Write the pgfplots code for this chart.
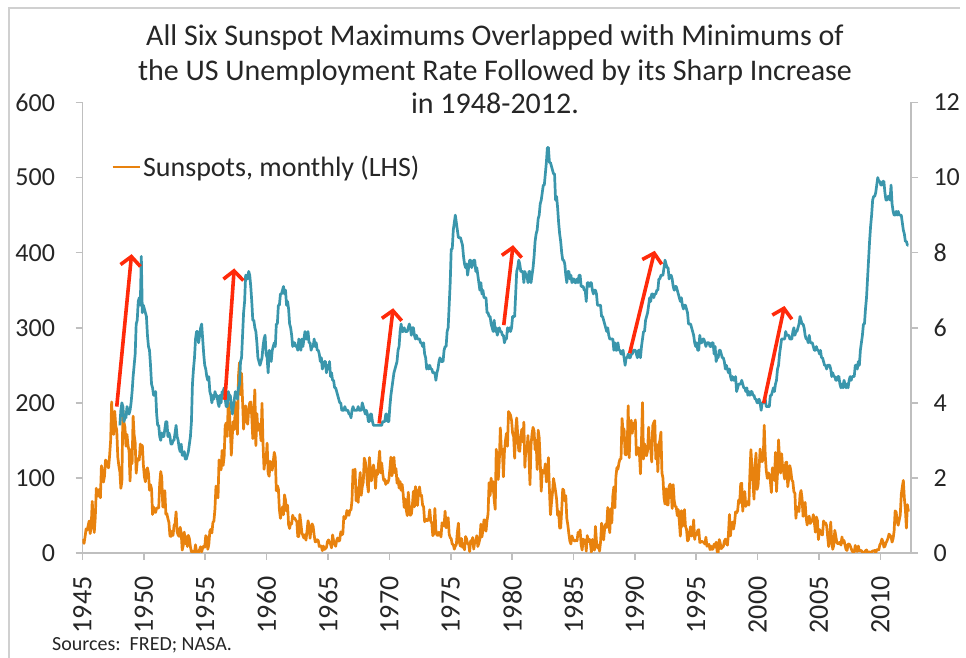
\documentclass[border=0pt]{standalone}
\usepackage{fontspec}
\setmainfont{Carlito}
\usepackage{pgfplots}
\usepackage{pgfplotstable}
\pgfplotsset{compat=1.18}
\usetikzlibrary{arrows.meta}

\definecolor{sunorange}{HTML}{E8820E}
\definecolor{unempblue}{HTML}{3A96AC}
\definecolor{arrowred}{HTML}{FF2A0A}
\definecolor{axisgray}{HTML}{BFBFBF}
\definecolor{framegray}{HTML}{D0D0D0}

% monthly sunspot number, Jan 1945 - Apr 2012
\pgfplotstableread[row sep=\\]{
ssn\\
18.5\\ 12.7\\ 21.5\\ 32.0\\ 30.6\\ 36.2\\ 42.6\\ 25.9\\ 34.9\\ 68.8\\ 46.0\\ 27.4\\
47.6\\ 86.2\\ 76.6\\ 75.7\\ 84.9\\ 73.5\\ 116.2\\ 107.2\\ 94.4\\ 102.3\\ 123.8\\ 121.7\\
115.7\\ 113.4\\ 129.8\\ 149.8\\ 201.3\\ 163.9\\ 157.9\\ 188.8\\ 169.4\\ 163.6\\ 128.0\\ 116.5\\
108.5\\ 86.1\\ 94.8\\ 189.7\\ 174.0\\ 167.8\\ 142.2\\ 157.9\\ 143.3\\ 136.3\\ 95.8\\ 138.0\\
119.1\\ 182.3\\ 157.5\\ 147.0\\ 106.2\\ 121.7\\ 125.8\\ 123.8\\ 145.3\\ 131.6\\ 143.5\\ 117.6\\
101.6\\ 94.8\\ 109.7\\ 113.4\\ 106.2\\ 83.6\\ 91.0\\ 85.2\\ 51.3\\ 61.4\\ 54.8\\ 54.1\\
59.9\\ 59.9\\ 59.9\\ 92.9\\ 108.5\\ 100.6\\ 61.5\\ 61.0\\ 83.1\\ 51.6\\ 52.4\\ 45.8\\
40.7\\ 22.7\\ 22.0\\ 29.1\\ 23.4\\ 36.4\\ 39.3\\ 54.9\\ 28.2\\ 23.8\\ 22.1\\ 34.3\\
26.5\\ 3.9\\ 10.0\\ 27.8\\ 12.5\\ 21.8\\ 8.6\\ 23.5\\ 19.3\\ 8.2\\ 1.6\\ 2.5\\
0.2\\ 0.5\\ 10.9\\ 1.8\\ 0.8\\ 0.2\\ 4.8\\ 8.4\\ 1.5\\ 7.0\\ 9.2\\ 7.6\\
23.1\\ 20.8\\ 4.9\\ 11.3\\ 28.9\\ 31.7\\ 26.7\\ 40.7\\ 42.7\\ 58.5\\ 89.2\\ 76.9\\
73.6\\ 124.0\\ 118.4\\ 110.7\\ 136.6\\ 116.6\\ 129.1\\ 169.6\\ 173.2\\ 155.3\\ 201.3\\ 192.1\\
165.0\\ 130.2\\ 157.4\\ 175.2\\ 164.6\\ 200.7\\ 187.2\\ 158.0\\ 235.8\\ 253.8\\ 210.9\\ 239.4\\
202.5\\ 164.9\\ 190.7\\ 196.0\\ 175.3\\ 171.5\\ 191.4\\ 200.2\\ 201.2\\ 181.5\\ 152.3\\ 187.6\\
217.4\\ 143.1\\ 185.7\\ 163.3\\ 172.0\\ 168.7\\ 149.6\\ 199.6\\ 145.2\\ 111.4\\ 124.0\\ 125.0\\
146.3\\ 106.0\\ 102.2\\ 122.0\\ 119.6\\ 110.2\\ 121.7\\ 134.1\\ 127.2\\ 82.8\\ 89.6\\ 85.6\\
57.9\\ 46.1\\ 53.0\\ 61.4\\ 51.0\\ 77.4\\ 70.2\\ 55.8\\ 63.6\\ 37.7\\ 32.6\\ 39.9\\
38.7\\ 50.3\\ 45.6\\ 46.4\\ 43.7\\ 42.0\\ 21.8\\ 21.8\\ 51.3\\ 39.5\\ 26.9\\ 23.2\\
19.8\\ 24.4\\ 17.1\\ 29.3\\ 43.0\\ 35.9\\ 19.6\\ 33.2\\ 38.8\\ 35.3\\ 23.4\\ 14.9\\
15.3\\ 17.7\\ 16.5\\ 8.6\\ 9.5\\ 9.1\\ 3.1\\ 9.3\\ 4.7\\ 6.1\\ 7.4\\ 15.1\\
17.5\\ 14.2\\ 11.7\\ 6.8\\ 24.1\\ 15.9\\ 11.9\\ 8.9\\ 16.8\\ 20.1\\ 15.8\\ 17.0\\
28.2\\ 24.4\\ 25.3\\ 48.7\\ 45.3\\ 47.7\\ 56.7\\ 51.2\\ 50.2\\ 57.2\\ 57.2\\ 70.4\\
110.9\\ 93.6\\ 111.8\\ 69.5\\ 86.5\\ 67.3\\ 91.5\\ 107.2\\ 76.8\\ 88.2\\ 94.3\\ 126.4\\
121.8\\ 111.9\\ 92.2\\ 81.2\\ 127.2\\ 110.3\\ 96.1\\ 109.3\\ 117.2\\ 107.7\\ 86.0\\ 109.8\\
104.4\\ 120.5\\ 135.8\\ 106.8\\ 120.0\\ 106.0\\ 96.8\\ 98.0\\ 91.3\\ 95.7\\ 93.5\\ 97.9\\
111.5\\ 127.8\\ 102.9\\ 109.5\\ 127.5\\ 106.8\\ 112.5\\ 93.0\\ 99.5\\ 86.6\\ 95.2\\ 83.5\\
91.3\\ 79.0\\ 60.7\\ 71.8\\ 57.5\\ 49.8\\ 81.0\\ 61.4\\ 50.2\\ 51.7\\ 63.2\\ 82.2\\
61.5\\ 88.4\\ 80.1\\ 63.2\\ 80.5\\ 88.0\\ 76.5\\ 76.8\\ 64.0\\ 61.3\\ 41.6\\ 45.3\\
43.4\\ 42.9\\ 46.0\\ 57.7\\ 42.4\\ 39.5\\ 23.1\\ 25.6\\ 59.3\\ 30.7\\ 23.9\\ 23.3\\
27.6\\ 26.0\\ 21.3\\ 40.3\\ 39.5\\ 36.0\\ 55.8\\ 33.6\\ 40.2\\ 47.1\\ 25.0\\ 20.5\\
18.9\\ 11.5\\ 11.5\\ 5.1\\ 9.0\\ 11.4\\ 28.2\\ 39.7\\ 13.9\\ 9.1\\ 19.4\\ 7.8\\
8.1\\ 4.3\\ 21.9\\ 18.8\\ 12.4\\ 12.2\\ 1.9\\ 16.4\\ 13.5\\ 20.6\\ 5.2\\ 15.3\\
16.4\\ 23.1\\ 8.7\\ 12.9\\ 18.6\\ 38.5\\ 21.4\\ 30.1\\ 44.0\\ 43.8\\ 29.1\\ 43.2\\
51.9\\ 93.6\\ 76.5\\ 99.7\\ 82.7\\ 95.1\\ 70.4\\ 58.1\\ 138.2\\ 125.1\\ 97.9\\ 122.7\\
166.6\\ 137.5\\ 138.0\\ 101.5\\ 134.4\\ 149.5\\ 159.4\\ 142.2\\ 188.4\\ 186.2\\ 183.3\\ 176.3\\
159.6\\ 155.0\\ 126.2\\ 164.1\\ 179.9\\ 157.3\\ 136.3\\ 135.4\\ 155.0\\ 164.7\\ 147.9\\ 174.4\\
114.0\\ 141.3\\ 135.5\\ 156.4\\ 127.5\\ 90.9\\ 143.8\\ 158.7\\ 167.3\\ 162.4\\ 137.5\\ 150.1\\
111.2\\ 163.6\\ 153.8\\ 122.0\\ 82.2\\ 110.4\\ 106.1\\ 107.6\\ 118.8\\ 94.7\\ 98.1\\ 127.0\\
84.3\\ 51.0\\ 66.5\\ 80.7\\ 99.2\\ 91.1\\ 82.2\\ 71.8\\ 50.3\\ 55.8\\ 33.3\\ 33.4\\
57.0\\ 85.1\\ 83.5\\ 69.4\\ 76.4\\ 46.1\\ 37.4\\ 25.5\\ 15.7\\ 12.0\\ 22.8\\ 18.7\\
16.5\\ 15.9\\ 17.2\\ 16.2\\ 27.5\\ 24.2\\ 30.7\\ 11.1\\ 3.9\\ 18.6\\ 16.2\\ 17.3\\
2.5\\ 23.2\\ 15.1\\ 18.5\\ 13.7\\ 1.1\\ 18.1\\ 7.4\\ 3.8\\ 35.4\\ 15.2\\ 6.8\\
10.4\\ 2.4\\ 14.7\\ 39.6\\ 33.0\\ 17.4\\ 33.0\\ 38.7\\ 33.9\\ 60.6\\ 39.9\\ 27.1\\
59.0\\ 40.0\\ 76.2\\ 88.0\\ 60.1\\ 101.8\\ 113.8\\ 111.6\\ 120.1\\ 125.1\\ 125.1\\ 179.2\\
161.3\\ 165.1\\ 131.4\\ 130.6\\ 138.5\\ 196.2\\ 126.9\\ 168.9\\ 176.7\\ 159.4\\ 173.0\\ 165.5\\
177.3\\ 130.5\\ 140.3\\ 140.3\\ 132.2\\ 105.4\\ 149.4\\ 200.3\\ 125.2\\ 145.5\\ 131.4\\ 129.7\\
136.9\\ 167.5\\ 141.9\\ 140.0\\ 121.3\\ 169.7\\ 173.7\\ 176.3\\ 125.3\\ 144.1\\ 108.2\\ 144.4\\
150.0\\ 161.1\\ 106.7\\ 99.8\\ 73.8\\ 65.2\\ 85.7\\ 64.5\\ 63.9\\ 88.7\\ 91.8\\ 82.6\\
59.3\\ 91.0\\ 69.8\\ 62.2\\ 61.3\\ 49.8\\ 57.9\\ 42.2\\ 22.4\\ 56.4\\ 35.6\\ 48.9\\
57.8\\ 35.5\\ 31.7\\ 16.1\\ 17.8\\ 28.0\\ 35.1\\ 22.5\\ 25.7\\ 44.0\\ 18.0\\ 26.2\\
24.2\\ 29.9\\ 31.1\\ 14.0\\ 14.5\\ 15.6\\ 14.5\\ 14.3\\ 11.8\\ 21.1\\ 9.0\\ 10.0\\
11.5\\ 4.4\\ 9.2\\ 4.8\\ 5.5\\ 11.8\\ 8.2\\ 14.4\\ 1.6\\ 0.9\\ 17.9\\ 13.3\\
5.7\\ 7.6\\ 8.7\\ 15.5\\ 18.5\\ 12.7\\ 10.4\\ 24.4\\ 51.3\\ 22.8\\ 39.0\\ 41.2\\
31.9\\ 40.3\\ 54.8\\ 53.4\\ 56.3\\ 70.7\\ 66.6\\ 92.2\\ 92.9\\ 55.5\\ 74.0\\ 81.9\\
62.0\\ 66.3\\ 68.8\\ 63.7\\ 106.4\\ 137.7\\ 113.5\\ 93.7\\ 71.5\\ 116.7\\ 133.2\\ 84.6\\
90.1\\ 112.9\\ 138.5\\ 125.5\\ 121.6\\ 124.9\\ 170.1\\ 130.5\\ 109.7\\ 99.4\\ 106.8\\ 104.4\\
95.6\\ 80.6\\ 113.5\\ 107.7\\ 96.6\\ 134.0\\ 81.8\\ 106.4\\ 150.7\\ 125.5\\ 106.5\\ 132.2\\
114.1\\ 107.4\\ 98.4\\ 120.7\\ 120.8\\ 88.3\\ 99.6\\ 116.4\\ 109.6\\ 97.5\\ 95.0\\ 81.6\\
79.5\\ 46.2\\ 61.5\\ 60.0\\ 55.2\\ 77.4\\ 83.3\\ 72.7\\ 48.7\\ 65.5\\ 67.3\\ 46.5\\
37.3\\ 45.8\\ 49.1\\ 39.3\\ 41.5\\ 43.2\\ 51.1\\ 40.9\\ 27.7\\ 48.0\\ 43.5\\ 17.9\\
31.3\\ 29.2\\ 24.5\\ 24.2\\ 42.7\\ 39.3\\ 40.1\\ 36.4\\ 22.1\\ 8.5\\ 18.0\\ 41.2\\
15.3\\ 4.9\\ 10.6\\ 30.2\\ 22.3\\ 13.9\\ 12.2\\ 12.9\\ 14.4\\ 10.5\\ 21.4\\ 13.6\\
16.8\\ 10.7\\ 4.5\\ 3.4\\ 11.7\\ 12.1\\ 9.7\\ 6.0\\ 2.4\\ 0.9\\ 1.7\\ 10.1\\
3.3\\ 2.1\\ 9.3\\ 2.9\\ 3.2\\ 3.4\\ 0.8\\ 0.5\\ 1.1\\ 2.9\\ 4.1\\ 0.8\\
1.5\\ 1.4\\ 0.7\\ 1.2\\ 2.9\\ 2.6\\ 3.5\\ 0.0\\ 4.2\\ 4.6\\ 4.2\\ 10.6\\
13.1\\ 18.6\\ 15.4\\ 7.9\\ 8.8\\ 13.5\\ 16.1\\ 19.6\\ 25.2\\ 23.5\\ 21.6\\ 14.5\\
19.0\\ 29.4\\ 56.2\\ 54.4\\ 41.6\\ 37.0\\ 43.9\\ 50.6\\ 78.0\\ 88.0\\ 96.7\\ 73.0\\
58.3\\ 33.1\\ 64.3\\ 55.2\\
}\sunspots

% US unemployment rate, monthly, Jan 1948 - Apr 2012
\pgfplotstableread[row sep=\\]{
ur\\
3.4\\ 3.8\\ 4.0\\ 3.9\\ 3.5\\ 3.6\\ 3.6\\ 3.9\\ 3.8\\ 3.7\\ 3.8\\ 4.0\\
4.3\\ 4.7\\ 5.0\\ 5.3\\ 6.1\\ 6.2\\ 6.7\\ 6.8\\ 6.6\\ 7.9\\ 6.4\\ 6.6\\
6.5\\ 6.4\\ 6.3\\ 5.8\\ 5.5\\ 5.4\\ 5.0\\ 4.5\\ 4.4\\ 4.2\\ 4.2\\ 4.3\\
3.7\\ 3.4\\ 3.4\\ 3.1\\ 3.0\\ 3.2\\ 3.1\\ 3.1\\ 3.3\\ 3.5\\ 3.5\\ 3.1\\
3.2\\ 3.1\\ 2.9\\ 2.9\\ 3.0\\ 3.0\\ 3.2\\ 3.4\\ 3.1\\ 3.0\\ 2.8\\ 2.7\\
2.9\\ 2.6\\ 2.6\\ 2.7\\ 2.5\\ 2.5\\ 2.6\\ 2.7\\ 2.9\\ 3.1\\ 3.5\\ 4.5\\
4.9\\ 5.2\\ 5.7\\ 5.9\\ 5.9\\ 5.6\\ 5.8\\ 6.0\\ 6.1\\ 5.7\\ 5.3\\ 5.0\\
4.9\\ 4.7\\ 4.6\\ 4.7\\ 4.3\\ 4.2\\ 4.0\\ 4.2\\ 4.1\\ 4.3\\ 4.2\\ 4.2\\
4.0\\ 3.9\\ 4.2\\ 4.0\\ 4.3\\ 4.3\\ 4.4\\ 4.1\\ 3.9\\ 3.9\\ 4.3\\ 4.2\\
4.2\\ 3.9\\ 3.7\\ 3.9\\ 4.1\\ 4.3\\ 4.2\\ 4.1\\ 4.4\\ 4.5\\ 5.1\\ 5.2\\
5.8\\ 6.4\\ 6.7\\ 7.4\\ 7.4\\ 7.3\\ 7.5\\ 7.4\\ 7.1\\ 6.7\\ 6.2\\ 6.2\\
6.0\\ 5.9\\ 5.6\\ 5.2\\ 5.1\\ 5.0\\ 5.1\\ 5.2\\ 5.5\\ 5.7\\ 5.8\\ 5.3\\
5.2\\ 4.8\\ 5.4\\ 5.2\\ 5.1\\ 5.4\\ 5.5\\ 5.6\\ 5.5\\ 6.1\\ 6.1\\ 6.6\\
6.6\\ 6.9\\ 6.9\\ 7.0\\ 7.1\\ 6.9\\ 7.0\\ 6.6\\ 6.7\\ 6.5\\ 6.1\\ 6.0\\
5.8\\ 5.5\\ 5.6\\ 5.6\\ 5.5\\ 5.5\\ 5.4\\ 5.7\\ 5.6\\ 5.4\\ 5.7\\ 5.5\\
5.7\\ 5.9\\ 5.7\\ 5.7\\ 5.9\\ 5.6\\ 5.6\\ 5.4\\ 5.5\\ 5.5\\ 5.7\\ 5.5\\
5.6\\ 5.4\\ 5.4\\ 5.3\\ 5.1\\ 5.2\\ 4.9\\ 5.0\\ 5.1\\ 5.1\\ 4.8\\ 5.0\\
4.9\\ 5.1\\ 4.7\\ 4.8\\ 4.6\\ 4.6\\ 4.4\\ 4.4\\ 4.3\\ 4.2\\ 4.1\\ 4.0\\
4.0\\ 3.8\\ 3.8\\ 3.8\\ 3.9\\ 3.8\\ 3.8\\ 3.8\\ 3.7\\ 3.7\\ 3.6\\ 3.8\\
3.9\\ 3.8\\ 3.8\\ 3.8\\ 3.8\\ 3.9\\ 3.8\\ 3.8\\ 3.8\\ 4.0\\ 3.9\\ 3.8\\
3.7\\ 3.8\\ 3.7\\ 3.5\\ 3.5\\ 3.7\\ 3.7\\ 3.5\\ 3.4\\ 3.4\\ 3.4\\ 3.4\\
3.4\\ 3.4\\ 3.4\\ 3.4\\ 3.4\\ 3.5\\ 3.5\\ 3.5\\ 3.7\\ 3.7\\ 3.5\\ 3.5\\
3.9\\ 4.2\\ 4.4\\ 4.6\\ 4.8\\ 4.9\\ 5.0\\ 5.1\\ 5.4\\ 5.5\\ 5.9\\ 6.1\\
5.9\\ 5.9\\ 6.0\\ 5.9\\ 5.9\\ 5.9\\ 6.0\\ 6.1\\ 6.0\\ 5.8\\ 6.0\\ 6.0\\
5.8\\ 5.7\\ 5.8\\ 5.7\\ 5.7\\ 5.7\\ 5.6\\ 5.6\\ 5.5\\ 5.6\\ 5.3\\ 5.2\\
4.9\\ 5.0\\ 4.9\\ 5.0\\ 4.9\\ 4.9\\ 4.8\\ 4.8\\ 4.8\\ 4.6\\ 4.8\\ 4.9\\
5.1\\ 5.2\\ 5.1\\ 5.1\\ 5.1\\ 5.4\\ 5.5\\ 5.5\\ 5.9\\ 6.0\\ 6.6\\ 7.2\\
8.1\\ 8.1\\ 8.6\\ 8.8\\ 9.0\\ 8.8\\ 8.6\\ 8.4\\ 8.4\\ 8.4\\ 8.3\\ 8.2\\
7.9\\ 7.7\\ 7.6\\ 7.7\\ 7.4\\ 7.6\\ 7.8\\ 7.8\\ 7.6\\ 7.7\\ 7.8\\ 7.8\\
7.5\\ 7.6\\ 7.4\\ 7.2\\ 7.0\\ 7.2\\ 6.9\\ 7.0\\ 6.8\\ 6.8\\ 6.8\\ 6.4\\
6.4\\ 6.3\\ 6.3\\ 6.1\\ 6.0\\ 5.9\\ 6.2\\ 5.9\\ 6.0\\ 5.8\\ 5.9\\ 6.0\\
5.9\\ 5.9\\ 5.8\\ 5.8\\ 5.6\\ 5.7\\ 5.7\\ 6.0\\ 5.9\\ 6.0\\ 5.9\\ 6.0\\
6.3\\ 6.3\\ 6.3\\ 6.9\\ 7.5\\ 7.6\\ 7.8\\ 7.7\\ 7.5\\ 7.5\\ 7.5\\ 7.2\\
7.5\\ 7.4\\ 7.4\\ 7.2\\ 7.5\\ 7.5\\ 7.2\\ 7.4\\ 7.6\\ 7.9\\ 8.3\\ 8.5\\
8.6\\ 8.9\\ 9.0\\ 9.3\\ 9.4\\ 9.6\\ 9.8\\ 9.8\\ 10.1\\ 10.4\\ 10.8\\ 10.8\\
10.4\\ 10.4\\ 10.3\\ 10.2\\ 10.1\\ 10.1\\ 9.4\\ 9.5\\ 9.2\\ 8.8\\ 8.5\\ 8.3\\
8.0\\ 7.8\\ 7.8\\ 7.7\\ 7.4\\ 7.2\\ 7.5\\ 7.5\\ 7.3\\ 7.4\\ 7.2\\ 7.3\\
7.3\\ 7.2\\ 7.2\\ 7.3\\ 7.2\\ 7.4\\ 7.4\\ 7.1\\ 7.1\\ 7.1\\ 7.0\\ 7.0\\
6.7\\ 7.2\\ 7.2\\ 7.1\\ 7.2\\ 7.2\\ 7.0\\ 6.9\\ 7.0\\ 7.0\\ 6.9\\ 6.6\\
6.6\\ 6.6\\ 6.6\\ 6.3\\ 6.3\\ 6.2\\ 6.1\\ 6.0\\ 5.9\\ 6.0\\ 5.8\\ 5.7\\
5.7\\ 5.7\\ 5.7\\ 5.4\\ 5.6\\ 5.4\\ 5.4\\ 5.6\\ 5.4\\ 5.4\\ 5.3\\ 5.3\\
5.4\\ 5.2\\ 5.0\\ 5.2\\ 5.2\\ 5.3\\ 5.2\\ 5.2\\ 5.3\\ 5.3\\ 5.4\\ 5.4\\
5.4\\ 5.3\\ 5.2\\ 5.4\\ 5.4\\ 5.2\\ 5.5\\ 5.7\\ 5.9\\ 5.9\\ 6.2\\ 6.3\\
6.4\\ 6.6\\ 6.8\\ 6.7\\ 6.9\\ 6.9\\ 6.8\\ 6.9\\ 6.9\\ 7.0\\ 7.0\\ 7.3\\
7.3\\ 7.4\\ 7.4\\ 7.4\\ 7.6\\ 7.8\\ 7.7\\ 7.6\\ 7.6\\ 7.3\\ 7.4\\ 7.4\\
7.3\\ 7.1\\ 7.0\\ 7.1\\ 7.1\\ 7.0\\ 6.9\\ 6.8\\ 6.7\\ 6.8\\ 6.6\\ 6.5\\
6.6\\ 6.6\\ 6.5\\ 6.4\\ 6.1\\ 6.1\\ 6.1\\ 6.0\\ 5.9\\ 5.8\\ 5.6\\ 5.5\\
5.6\\ 5.4\\ 5.4\\ 5.8\\ 5.6\\ 5.6\\ 5.7\\ 5.7\\ 5.6\\ 5.5\\ 5.6\\ 5.6\\
5.6\\ 5.5\\ 5.5\\ 5.6\\ 5.6\\ 5.3\\ 5.5\\ 5.1\\ 5.2\\ 5.2\\ 5.4\\ 5.4\\
5.3\\ 5.2\\ 5.2\\ 5.1\\ 4.9\\ 5.0\\ 4.9\\ 4.8\\ 4.9\\ 4.7\\ 4.6\\ 4.7\\
4.6\\ 4.6\\ 4.7\\ 4.3\\ 4.4\\ 4.5\\ 4.5\\ 4.5\\ 4.6\\ 4.5\\ 4.4\\ 4.4\\
4.3\\ 4.4\\ 4.2\\ 4.3\\ 4.2\\ 4.3\\ 4.3\\ 4.2\\ 4.2\\ 4.1\\ 4.1\\ 4.0\\
4.0\\ 4.1\\ 4.0\\ 3.8\\ 4.0\\ 4.0\\ 4.0\\ 4.1\\ 3.9\\ 3.9\\ 3.9\\ 3.9\\
4.2\\ 4.2\\ 4.3\\ 4.4\\ 4.3\\ 4.5\\ 4.6\\ 4.9\\ 5.0\\ 5.3\\ 5.5\\ 5.7\\
5.7\\ 5.7\\ 5.7\\ 5.9\\ 5.8\\ 5.8\\ 5.8\\ 5.7\\ 5.7\\ 5.7\\ 5.9\\ 6.0\\
5.8\\ 5.9\\ 5.9\\ 6.0\\ 6.1\\ 6.3\\ 6.2\\ 6.1\\ 6.1\\ 6.0\\ 5.8\\ 5.7\\
5.7\\ 5.6\\ 5.8\\ 5.6\\ 5.6\\ 5.6\\ 5.5\\ 5.4\\ 5.4\\ 5.5\\ 5.4\\ 5.4\\
5.3\\ 5.4\\ 5.2\\ 5.2\\ 5.1\\ 5.0\\ 5.0\\ 4.9\\ 5.0\\ 5.0\\ 5.0\\ 4.9\\
4.7\\ 4.8\\ 4.7\\ 4.7\\ 4.6\\ 4.6\\ 4.7\\ 4.7\\ 4.5\\ 4.4\\ 4.5\\ 4.4\\
4.6\\ 4.5\\ 4.4\\ 4.5\\ 4.4\\ 4.6\\ 4.7\\ 4.6\\ 4.7\\ 4.7\\ 4.7\\ 5.0\\
5.0\\ 4.9\\ 5.1\\ 5.0\\ 5.4\\ 5.6\\ 5.8\\ 6.1\\ 6.1\\ 6.5\\ 6.8\\ 7.3\\
7.8\\ 8.3\\ 8.7\\ 9.0\\ 9.4\\ 9.5\\ 9.5\\ 9.6\\ 9.8\\ 10.0\\ 9.9\\ 9.9\\
9.8\\ 9.8\\ 9.9\\ 9.9\\ 9.6\\ 9.4\\ 9.4\\ 9.5\\ 9.5\\ 9.4\\ 9.8\\ 9.3\\
9.1\\ 9.0\\ 9.0\\ 9.1\\ 9.0\\ 9.1\\ 9.0\\ 9.0\\ 9.0\\ 8.8\\ 8.6\\ 8.5\\
8.3\\ 8.3\\ 8.2\\ 8.2\\
}\unrate

\pgfplotsset{
  twin/.style={
    scale only axis, width=828.5pt, height=450.5pt,
    xmin=1945, xmax=2012.5,
    axis line style={axisgray, line width=1.6pt, -},
    tick align=outside, major tick length=7pt,
    tick style={axisgray, line width=1.6pt},
    tick label style={font=\fontsize{26}{26}\selectfont, text=black!85},
    /pgf/number format/assume math mode=true,
    /pgf/number format/1000 sep={},
  },
}

\begin{document}
\begin{tikzpicture}
\useasboundingbox (-82.5pt,-105pt) rectangle (883.5pt,553pt);

\begin{axis}[twin,
  ymin=0, ymax=600,
  axis x line*=bottom, axis y line*=left,
  xtick={1945,1950,...,2010}, ytick={0,100,...,600},
  xticklabel style={yshift=-13pt, rotate=90, anchor=east,
    font=\fontsize{28}{28}\selectfont},
  yticklabel style={xshift=-17pt},
  legend style={at={(0.031,0.857)}, anchor=west, draw=none, fill=none,
    font=\fontsize{28}{28}\selectfont, text=black!85},
  legend image code/.code={\draw[#1] (0pt,0pt) -- (27pt,0pt);},
]
\addplot[sunorange, line width=2.7pt, line join=round]
  table[x expr=1945+(\coordindex+0.5)/12, y=ssn] {\sunspots};
\addlegendentry{Sunspots, monthly (LHS)}
\end{axis}

\begin{axis}[twin,
  ymin=0, ymax=12,
  axis x line=none, axis y line*=right,
  ytick={0,2,...,12},
  yticklabel style={anchor=west, xshift=12pt},
]
\addplot[unempblue, line width=2.7pt, line join=round]
  table[x expr=1948+(\coordindex+0.5)/12, y=ur] {\unrate};
% red arrows: sunspot maximum -> rise in unemployment
\begin{scope}[arrowred, line width=3.6pt, -{Straight Barb[length=9pt,width=20pt]}]
  \draw (axis cs:1947.79,3.90) -- (axis cs:1949.00,7.96);
  \draw (axis cs:1956.60,4.08) -- (axis cs:1957.36,7.58);
  \draw (axis cs:1969.17,3.45) -- (axis cs:1970.31,6.52);
  \draw (axis cs:1979.32,6.07) -- (axis cs:1980.08,8.20);
  \draw (axis cs:1989.58,5.32) -- (axis cs:1991.62,8.05);
  \draw (axis cs:2000.50,3.99) -- (axis cs:2002.19,6.58);
\end{scope}
\end{axis}

% title, source note and chart frame, placed in pixel units of the reference
\begin{scope}[x=1pt, y=-1pt, shift={(-82.5pt,553pt)}]
  \draw[framegray, line width=2pt] (9,658) -- (9,8) -- (960,8);
  \node[anchor=base, font=\fontsize{30}{30}\selectfont, text=black!85] at (495,46)
    {All Six Sunspot Maximums Overlapped with Minimums of};
  \node[anchor=base, font=\fontsize{30}{30}\selectfont, text=black!85] at (495,81)
    {the US Unemployment Rate Followed by its Sharp Increase};
  \node[anchor=base, font=\fontsize{30}{30}\selectfont, text=black!85] at (495,114)
    {in 1948-2012.};
  \node[anchor=base west, inner sep=0pt, font=\fontsize{20}{20}\selectfont, text=black!85]
    at (52,651) {Sources:\ \ FRED; NASA.};
\end{scope}
\end{tikzpicture}
\end{document}
